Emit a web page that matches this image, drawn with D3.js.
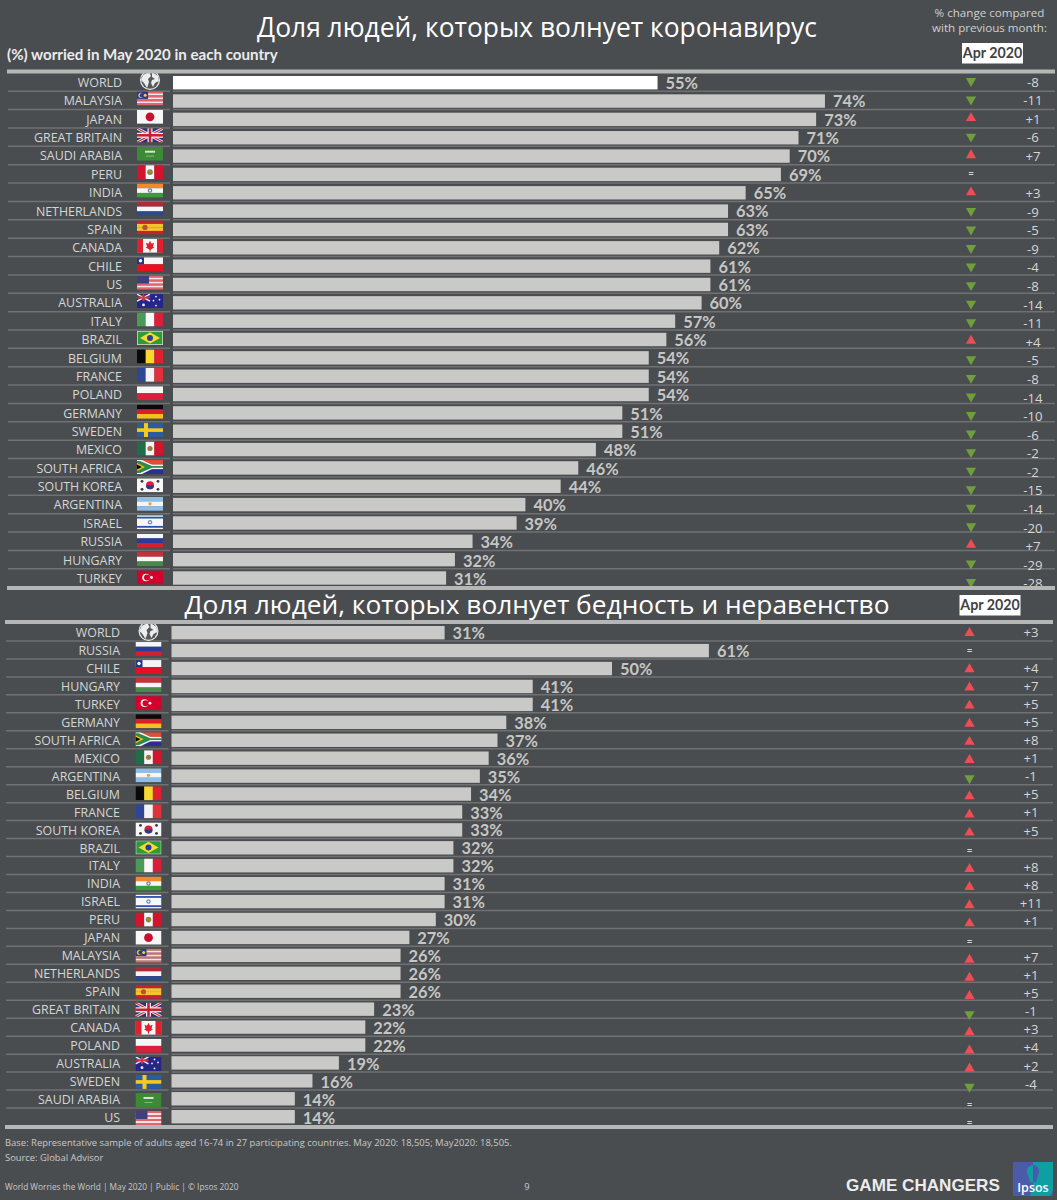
<!DOCTYPE html>
<html>
<head>
<meta charset="utf-8">
<script src="https://cdn.jsdelivr.net/npm/d3@7"></script>
<style>
  body { margin: 0; background: #4a4d4f; }
  svg { display: block; font-family: "Open Sans", sans-serif; }
</style>
</head>
<body>
<svg id="chart" width="1057" height="1200"></svg>
<script>
// coronavirus panel
const virusCountries = ["WORLD", "MALAYSIA", "JAPAN", "GREAT BRITAIN", "SAUDI ARABIA", "PERU", "INDIA", "NETHERLANDS", "SPAIN", "CANADA", "CHILE", "US", "AUSTRALIA", "ITALY", "BRAZIL", "BELGIUM", "FRANCE", "POLAND", "GERMANY", "SWEDEN", "MEXICO", "SOUTH AFRICA", "SOUTH KOREA", "ARGENTINA", "ISRAEL", "RUSSIA", "HUNGARY", "TURKEY"];
const virusValues = [55, 74, 73, 71, 70, 69, 65, 63, 63, 62, 61, 61, 60, 57, 56, 54, 54, 54, 51, 51, 48, 46, 44, 40, 39, 34, 32, 31];
const virusChange = [-8, -11, 1, -6, 7, 0, 3, -9, -5, -9, -4, -8, -14, -11, 4, -5, -8, -14, -10, -6, -2, -2, -15, -14, -20, 7, -29, -28];

// poverty and inequality panel
const povertyCountries = ["WORLD", "RUSSIA", "CHILE", "HUNGARY", "TURKEY", "GERMANY", "SOUTH AFRICA", "MEXICO", "ARGENTINA", "BELGIUM", "FRANCE", "SOUTH KOREA", "BRAZIL", "ITALY", "INDIA", "ISRAEL", "PERU", "JAPAN", "MALAYSIA", "NETHERLANDS", "SPAIN", "GREAT BRITAIN", "CANADA", "POLAND", "AUSTRALIA", "SWEDEN", "SAUDI ARABIA", "US"];
const povertyValues = [31, 61, 50, 41, 41, 38, 37, 36, 35, 34, 33, 33, 32, 32, 31, 31, 30, 27, 26, 26, 26, 23, 22, 22, 19, 16, 14, 14];
const povertyChange = [3, 0, 4, 7, 5, 5, 8, 1, -1, 5, 1, 5, 0, 8, 8, 11, 1, 0, 7, 1, 5, -1, 3, 4, 2, -4, 0, 0];

const svg = d3.select("#chart");
const width = 1057, height = 1200;
const ruleColor = "#b5b7b7", lineColor = "#6f7173", barColor = "#c9c9c7", textColor = "#d6d6d6";
const upColor = "#ef4c56", downColor = "#6e9f3c";
const lato = "Lato, 'Open Sans', sans-serif";

// clip for the flags, in each flag's own coordinates
svg.append("defs").append("clipPath").attr("id", "flagClip")
    .append("rect").attr("x", -13).attr("y", -7).attr("width", 26).attr("height", 14);

function box(g, x, y, w, h, fill) {
    return g.append("rect").attr("x", x).attr("y", y).attr("width", w).attr("height", h).attr("fill", fill);
}
function dot(g, x, y, r, fill) {
    return g.append("circle").attr("cx", x).attr("cy", y).attr("r", r).attr("fill", fill);
}
function shape(g, d, fill) {
    return g.append("path").attr("d", d).attr("fill", fill);
}
function seg(g, x1, y1, x2, y2, color, w) {
    return g.append("line").attr("x1", x1).attr("y1", y1).attr("x2", x2).attr("y2", y2).attr("stroke", color).attr("stroke-width", w);
}
function hStripes(g, colors) {
    const h = 14 / colors.length;
    colors.forEach((c, i) => box(g, -13, -7 + i * h, 26, h + 0.1, c));
}
function vStripes(g, colors) {
    const w = 26 / colors.length;
    colors.forEach((c, i) => box(g, -13 + i * w, -7, w + 0.1, 14, c));
}
function usStripes(g) {
    for (let i = 0; i < 7; i++) box(g, -13, -7 + i * 2, 26, 2, i % 2 ? "#f5e4e4" : "#e0666c");
}

const flags = {
    "WORLD": g => {
        dot(g, 0, 0, 10, "#ededed");
        dot(g, 0, 0, 8.8, "#55585a");
        shape(g, "M-7 -5 L-1 -8 L1 -4 L-2 -1 L-1 2 L-3 8 L-6 3 L-9 0Z", "#ededed");
        shape(g, "M2 -8 L8 -4 L9 1 L5 3 L3 7 L1 3 L2 0 L5 -1 L2 -3Z", "#ededed");
    },
    "MALAYSIA": g => {
        usStripes(g);
        box(g, -13, -7, 11, 7.5, "#2c3a8c");
        dot(g, -9, -3.2, 2.6, "#f2cf3c");
        dot(g, -8, -3.2, 2.2, "#2c3a8c");
        dot(g, -4.8, -3.2, 1.5, "#f2cf3c");
    },
    "JAPAN": g => {
        box(g, -13, -7, 26, 14, "#f7f7f7");
        dot(g, 0, 0, 4.4, "#c8102e");
    },
    "GREAT BRITAIN": g => {
        box(g, -13, -7, 26, 14, "#2b2f7f");
        seg(g, -13, -7, 13, 7, "#f2f2f2", 3);
        seg(g, -13, 7, 13, -7, "#f2f2f2", 3);
        seg(g, -13, -7, 13, 7, "#c8202f", 1.2);
        seg(g, -13, 7, 13, -7, "#c8202f", 1.2);
        box(g, -13, -2.5, 26, 5, "#f2f2f2");
        box(g, -2.5, -7, 5, 14, "#f2f2f2");
        box(g, -13, -1.3, 26, 2.6, "#c8202f");
        box(g, -1.3, -7, 2.6, 14, "#c8202f");
    },
    "SAUDI ARABIA": g => {
        box(g, -13, -7, 26, 14, "#3c8a35");
        box(g, -5, -3, 10, 2, "#d5e6d0");
        box(g, -4, 2, 8, 0.7, "#a8cfa4");
    },
    "PERU": g => {
        vStripes(g, ["#d2142c", "#f7f7f7", "#d2142c"]);
        dot(g, 0, 0, 2.8, "#7c8a4a");
        dot(g, 0, -0.5, 1.3, "#b8863c");
    },
    "INDIA": g => {
        hStripes(g, ["#f08b2c", "#f5f5f5", "#3c9a3c"]);
        dot(g, 0, 0, 2.2, "#6f76a8");
        dot(g, 0, 0, 1.1, "#f5f5f5");
    },
    "NETHERLANDS": g => hStripes(g, ["#ad2a3a", "#f5f5f5", "#2c4a88"]),
    "SPAIN": g => {
        hStripes(g, ["#c8202c", "#f4c430", "#f4c430", "#c8202c"]);
        dot(g, -5, 0, 2.6, "#b8503c");
    },
    "CANADA": g => {
        box(g, -13, -7, 26, 14, "#f5f5f5");
        box(g, -13, -7, 6, 14, "#e0202f");
        box(g, 7, -7, 6, 14, "#e0202f");
        shape(g, "M0 -5 L1.5 -2 L4 -3 L3 1 L4.5 1.5 L0.5 4 L0.5 6 L-0.5 6 L-0.5 4 L-4.5 1.5 L-3 1 L-4 -3 L-1.5 -2Z", "#e0202f");
    },
    "CHILE": g => {
        hStripes(g, ["#f5f5f5", "#e8101f"]);
        box(g, -13, -7, 7, 7, "#22348c");
        dot(g, -9.5, -3.5, 1.7, "#f5f5f5");
    },
    "US": g => {
        usStripes(g);
        box(g, -13, -7, 12, 8, "#3d3f7e");
    },
    "AUSTRALIA": g => {
        box(g, -13, -7, 26, 14, "#26268a");
        seg(g, -13, -7, 0, 0, "#f2f2f2", 1.4);
        seg(g, -13, 0, 0, -7, "#f2f2f2", 1.4);
        box(g, -13, -4.5, 13, 2, "#d8303c");
        box(g, -7.5, -7, 2, 7, "#d8303c");
        dot(g, -6.5, 3.8, 1.4, "#f2f2f2");
        [[6, -4.5], [9.5, -1.5], [3.5, -0.5], [6, 4.5]].forEach(p => dot(g, p[0], p[1], 0.9, "#f2f2f2"));
    },
    "ITALY": g => vStripes(g, ["#4c9a58", "#f7f7f7", "#d8203a"]),
    "BRAZIL": g => {
        box(g, -13, -7, 26, 14, "#d3d9c8");
        box(g, -12.2, -6.2, 24.4, 12.4, "#2f9a3a");
        shape(g, "M-10 0 L0 -5.6 L10 0 L0 5.6Z", "#f5dc2c");
        dot(g, 0, 0, 3, "#2a3c9c");
    },
    "BELGIUM": g => vStripes(g, ["#0a0a0a", "#f6d92e", "#e0202f"]),
    "FRANCE": g => vStripes(g, ["#2f4596", "#f3f3f3", "#e0303c"]),
    "POLAND": g => hStripes(g, ["#f7f7f7", "#d8203a"]),
    "GERMANY": g => hStripes(g, ["#0a0a0a", "#d8202a", "#f4c020"]),
    "SWEDEN": g => {
        box(g, -13, -7, 26, 14, "#2c5c9c");
        box(g, -6, -7, 4, 14, "#f6c91e");
        box(g, -13, -1.8, 26, 3.6, "#f6c91e");
    },
    "MEXICO": g => {
        vStripes(g, ["#1e6e48", "#f5f5f5", "#d2142c"]);
        dot(g, 0, 0, 2.6, "#9a7a48");
    },
    "SOUTH AFRICA": g => {
        hStripes(g, ["#e04b3a", "#f5f5f5", "#2a2f90"]);
        shape(g, "M-13 -7 L-8 -7 L3 -1.6 L13 -1.6 L13 1.6 L3 1.6 L-8 7 L-13 7Z", "#f5f5f5");
        shape(g, "M-13 -6 L-10 -6 L2 -0.9 L13 -0.9 L13 0.9 L2 0.9 L-10 6 L-13 6Z", "#2c8a4a");
        shape(g, "M-13 -4 L-5 0 L-13 4Z", "#f2c21c");
        shape(g, "M-13 -2.5 L-8 0 L-13 2.5Z", "#0a0a0a");
    },
    "SOUTH KOREA": g => {
        box(g, -13, -7, 26, 14, "#f7f7f7");
        dot(g, 0, 0, 4, "#d8203a");
        shape(g, "M-4 0 A4 4 0 0 0 4 0Z", "#2a3c8c");
        [[-8, -4], [8, -4], [-8, 4], [8, 4]].forEach(p => dot(g, p[0], p[1], 1.4, "#3a3a3a"));
    },
    "ARGENTINA": g => {
        hStripes(g, ["#8fbde6", "#f5f5f5", "#8fbde6"]);
        dot(g, 0, 0, 1.6, "#e0a23c");
    },
    "ISRAEL": g => {
        box(g, -13, -7, 26, 14, "#f7f7f7");
        box(g, -13, -5.5, 26, 1.8, "#2a50b0");
        box(g, -13, 3.7, 26, 1.8, "#2a50b0");
        dot(g, 0, 0, 2.2, "#6f8cc8");
        dot(g, 0, 0, 1, "#f7f7f7");
    },
    "RUSSIA": g => hStripes(g, ["#f7f7f7", "#2a3c9c", "#d2202c"]),
    "HUNGARY": g => hStripes(g, ["#c8303c", "#f7f7f7", "#4a8a48"]),
    "TURKEY": g => {
        box(g, -13, -7, 26, 14, "#d2022c");
        dot(g, -4, 0, 3.8, "#f7f7f7");
        dot(g, -3, 0, 3, "#d2022c");
        dot(g, 1.5, 0, 1.4, "#f7f7f7");
    }
};

function drawPanel(p) {
    const rows = p.countries.map((c, i) => ({ country: c, value: p.values[i], change: p.change[i] }));

    const x = d3.scaleLinear().domain([0, 100]).range([p.barLeft, p.barLeft + 881]);
    const y = d3.scalePoint().domain(p.countries).range(p.barRange);
    const labelY = d3.scalePoint().domain(p.countries).range(p.labelRange);
    const flagY = d3.scalePoint().domain(p.countries).range(p.flagRange);
    const valueY = d3.scalePoint().domain(p.countries).range(p.valueRange);
    const markerY = d3.scalePoint().domain(p.countries).range(p.markerRange);
    const changeY = d3.scalePoint().domain(p.countries).range(p.changeRange);

    // separators between the rows
    const seps = p.countries.slice(1);
    const sepY = d => labelY(d) - labelY.step() / 2;
    svg.append("g").selectAll("line").data(seps).enter().append("line")
        .attr("x1", p.lineLeft).attr("x2", p.barLeft - 3)
        .attr("y1", sepY).attr("y2", sepY)
        .attr("stroke", lineColor).attr("stroke-width", 1.5);
    svg.append("g").selectAll("line").data(seps).enter().append("line")
        .attr("x1", p.barLeft).attr("x2", p.lineRight)
        .attr("y1", sepY).attr("y2", sepY)
        .attr("stroke", lineColor).attr("stroke-width", 1.5);

    // country names
    const axis = svg.append("g")
        .attr("transform", `translate(${p.labelRight},0.5)`)
        .call(d3.axisLeft(labelY).tickSize(0).tickPadding(0));
    axis.select(".domain").remove();
    axis.selectAll("text")
        .attr("fill", textColor)
        .style("font-size", "12.4px")
        .style("font-family", "'Open Sans', sans-serif");

    // flags
    rows.forEach(d => {
        const g = svg.append("g")
            .attr("transform", `translate(${p.flagX},${flagY(d.country)})`)
            .attr("clip-path", d.country === "WORLD" ? null : "url(#flagClip)")
            .style("filter", "blur(0.3px)");
        flags[d.country](g);
    });

    // bars
    svg.append("g").selectAll("rect").data(rows).enter().append("rect")
        .attr("x", x(0))
        .attr("y", d => y(d.country) - 6.7)
        .attr("width", d => x(d.value) - x(0))
        .attr("height", 13.4)
        .attr("fill", d => p.highlightWorld && d.country === "WORLD" ? "#ffffff" : barColor);

    // value labels
    svg.append("g").selectAll("text").data(rows).enter().append("text")
        .attr("x", d => x(d.value) + 8)
        .attr("y", d => valueY(d.country))
        .attr("dy", "0.36em")
        .attr("fill", "#c6c6c4")
        .style("font-family", lato)
        .style("font-size", "16.4px")
        .style("font-weight", 700)
        .text(d => d.value + "%");

    // change markers
    svg.append("g").selectAll("path").data(rows.filter(d => d.change !== 0)).enter().append("path")
        .attr("d", d3.symbol().type(d3.symbolTriangle).size(46))
        .attr("transform", d => `translate(${p.markerX},${markerY(d.country)}) rotate(${d.change > 0 ? 0 : 180})`)
        .attr("fill", d => d.change > 0 ? upColor : downColor);
    svg.append("g").selectAll("text").data(rows.filter(d => d.change === 0)).enter().append("text")
        .attr("x", p.markerX)
        .attr("y", d => markerY(d.country))
        .attr("dy", "0.36em")
        .attr("text-anchor", "middle")
        .attr("fill", textColor)
        .style("font-size", "9px")
        .style("font-weight", 700)
        .text("=");

    // change values
    svg.append("g").selectAll("text").data(rows.filter(d => d.change !== 0)).enter().append("text")
        .attr("x", p.changeX)
        .attr("y", d => changeY(d.country))
        .attr("dy", "0.36em")
        .attr("text-anchor", "middle")
        .attr("fill", textColor)
        .style("font-size", "13.2px")
        .text(d => (d.change > 0 ? "+" : "") + d.change);
}

drawPanel({
    countries: virusCountries, values: virusValues, change: virusChange, highlightWorld: true,
    barLeft: 173, lineLeft: 8, lineRight: 1055, labelRight: 122, flagX: 150, markerX: 971, changeX: 1033,
    barRange: [82.7, 578], labelRange: [82, 578], flagRange: [80, 577.5], valueRange: [83, 579],
    markerRange: [81, 582], changeRange: [82, 583.5]
});
drawPanel({
    countries: povertyCountries, values: povertyValues, change: povertyChange, highlightWorld: false,
    barLeft: 171.5, lineLeft: 6, lineRight: 1053, labelRight: 120, flagX: 148.5, markerX: 969.5, changeX: 1031,
    barRange: [632.7, 1116.7], labelRange: [632, 1117], flagRange: [631, 1118], valueRange: [633, 1118],
    markerRange: [633, 1123], changeRange: [632, 1120]
});

// thick rules, drawn after the rows so they cut the last ones off
const rules = [[7, 1055, 71.5], [7, 1055, 588], [5, 1053, 622], [5, 1053, 1127]];
svg.append("g").selectAll("line").data(rules).enter().append("line")
    .attr("x1", d => d[0]).attr("x2", d => d[1])
    .attr("y1", d => d[2]).attr("y2", d => d[2])
    .attr("stroke", ruleColor).attr("stroke-width", 4);

function label(txt, x, y, size, fill, anchor, weight) {
    return svg.append("text").attr("x", x).attr("y", y).attr("dy", "0.36em")
        .attr("text-anchor", anchor || "start").attr("fill", fill)
        .style("font-size", size + "px").style("font-weight", weight || 400).text(txt);
}

label("Доля людей, которых волнует коронавирус", 537, 27, 26.4, "#ffffff", "middle");
label("Доля людей, которых волнует бедность и неравенство", 537, 605, 26.3, "#ffffff", "middle");
label("(%) worried in May 2020 in each country", 7, 55, 15.1, "#ebebeb", "start", 700).style("font-family", lato);
label("% change compared", 989.5, 13, 11.6, "#cfcfcf", "middle");
label("with previous month:", 989.5, 28, 11.6, "#cfcfcf", "middle");

[[962, 53], [959.5, 605]].forEach(d => {
    box(svg, d[0], d[1] - 10, 61, 20.5, "#ffffff");
    label("Apr 2020", d[0] + 30.5, d[1], 14.2, "#3f4245", "middle", 700).style("font-family", lato);
});

label("Base: Representative sample of adults aged 16-74 in 27 participating countries. May 2020: 18,505; May2020: 18,505.", 5, 1143, 9.45, "#c9c9c9");
label("Source: Global Advisor", 5, 1158, 9.4, "#c9c9c9");
label("World Worries the World | May 2020 | Public | © Ipsos 2020", 5, 1187, 8.3, "#c9c9c9");
label("9", 527, 1187, 9.4, "#c9c9c9", "middle");

label("GAME CHANGERS", 846, 1185, 17.1, "#ececec", "start", 700)
    .style("font-family", "'Liberation Sans', sans-serif");

// Ipsos logo
const logo = svg.append("g").attr("transform", "translate(1013,1162)");
box(logo, 0, 0, 40, 34, "#4b5aa9");
shape(logo, "M20 0 L40 0 L40 28 L37 34 L17 34 L20 24Z", "#0f9ea4");
shape(logo, "M20 3 A6.5 6.5 0 0 0 15 13 L17 20 L20 20Z", "#0f9ea4");
shape(logo, "M20 3 A6.5 6.5 0 0 1 25 13 L23 20 L20 20Z", "#4b5aa9");
logo.append("text").attr("x", 20).attr("y", 30).attr("text-anchor", "middle")
    .attr("fill", "#ffffff").style("font-size", "12.5px").style("font-weight", 600).text("Ipsos");
</script>
</body>
</html>
